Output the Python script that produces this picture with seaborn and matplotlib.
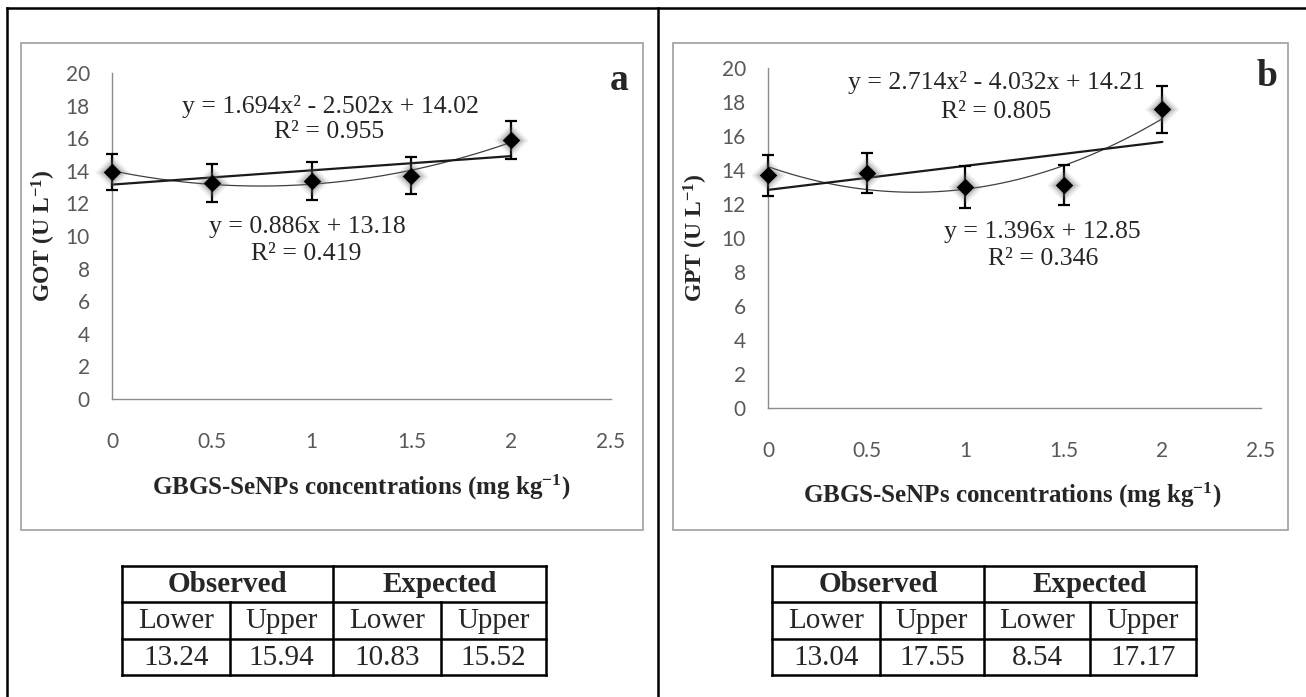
import numpy as np
import pandas as pd
import seaborn as sns
import matplotlib.pyplot as plt
from matplotlib.lines import Line2D
from matplotlib.patches import Rectangle

# values
conc = [0, 0.5, 1, 1.5, 2]
got_mean = [13.93, 13.25, 13.37, 13.70, 15.89]
got_err = [1.10, 1.16, 1.17, 1.14, 1.19]
gpt_mean = [13.70, 13.80, 13.02, 13.12, 17.57]
gpt_err = [1.20, 1.18, 1.23, 1.15, 1.39]

xticks = [0, 0.5, 1, 1.5, 2, 2.5]
xtick_labels = ['0', '0.5', '1', '1.5', '2', '2.5']
yticks = list(range(0, 21, 2))

got_eqs = ['y = 1.694x² - 2.502x + 14.02', 'R² = 0.955', 'y = 0.886x + 13.18', 'R² = 0.419']
gpt_eqs = ['y = 2.714x² - 4.032x + 14.21', 'R² = 0.805', 'y = 1.396x + 12.85', 'R² = 0.346']

table_head = ['Observed', 'Expected']
table_sub = ['Lower', 'Upper', 'Lower', 'Upper']
got_table = ['13.24', '15.94', '10.83', '15.52']
gpt_table = ['13.04', '17.55', '8.54', '17.17']

sns.set_style('white')
plt.rcParams['font.family'] = ['Liberation Serif', 'DejaVu Serif']
plt.rcParams['mathtext.fontset'] = 'custom'
plt.rcParams['mathtext.rm'] = 'Liberation Serif:bold'
plt.rcParams['mathtext.it'] = 'Liberation Serif:bold'
plt.rcParams['mathtext.bf'] = 'Liberation Serif:bold'

W, H = 1306, 697
fig = plt.figure(figsize=(W / 100, H / 100), dpi=100)


def P(x, y):
    return x / W, 1 - y / H


def hline(x0, x1, y, lw=1.8, color='black'):
    fig.add_artist(Line2D([x0 / W, x1 / W], [1 - y / H, 1 - y / H], transform=fig.transFigure,
                          color=color, lw=lw, solid_capstyle='projecting'))


def vline(x, y0, y1, lw=1.8, color='black'):
    fig.add_artist(Line2D([x / W, x / W], [1 - y0 / H, 1 - y1 / H], transform=fig.transFigure,
                          color=color, lw=lw, solid_capstyle='projecting'))


# outer frame of the page table
hline(7, 1306, 8)
vline(7, 8, 697)
vline(658, 8, 697)


def draw_panel(ax_px, box_px, mean, err, ylab, letter, eqs, eq_pos, ylab_pos, xlab_pos, letter_pos):
    x0, x1, ytop, ybot = ax_px
    ax = fig.add_axes([x0 / W, 1 - ybot / H, (x1 - x0) / W, (ybot - ytop) / H])
    bx0, by0, bx1, by1 = box_px
    fig.add_artist(Rectangle((bx0 / W, 1 - by1 / H), (bx1 - bx0) / W, (by1 - by0) / H,
                             transform=fig.transFigure, fill=False, edgecolor='#a6a6a6', lw=1.3))
    df = pd.DataFrame({'conc': conc, 'val': mean})

    sns.regplot(data=df, x='conc', y='val', order=2, ci=None, scatter=False, truncate=True,
                ax=ax, line_kws=dict(color='#404040', lw=0.9))
    sns.regplot(data=df, x='conc', y='val', order=1, ci=None, scatter=False, truncate=True,
                ax=ax, line_kws=dict(color='#1a1a1a', lw=1.6))
    eb = ax.errorbar(conc, mean, yerr=err, fmt='none', ecolor='black', elinewidth=1.6,
                     capsize=4, capthick=1.6, zorder=3)
    for art in eb.lines[1] + eb.lines[2]:
        art.set_clip_on(False)
    # soft shadow round the markers
    for s, a in [(300, 0.12), (200, 0.18), (130, 0.25)]:
        sns.scatterplot(data=df, x='conc', y='val', marker='D', s=s, color='#707070', alpha=a,
                        linewidth=0, ax=ax, zorder=4, clip_on=False)
    sns.scatterplot(data=df, x='conc', y='val', marker='D', s=80, color='black',
                    linewidth=0, ax=ax, zorder=5, clip_on=False)

    ax.set_xlim(0, 2.5)
    ax.set_ylim(0, 20)
    ax.set_xticks(xticks)
    ax.set_xticklabels(xtick_labels)
    ax.set_yticks(yticks)
    ax.set_xlabel('')
    ax.set_ylabel('')
    sns.despine(ax=ax)
    for side in ['left', 'bottom']:
        ax.spines[side].set_color('#8c8c8c')
        ax.spines[side].set_linewidth(1.0)
    ax.tick_params(axis='both', direction='out', length=6, width=1.0, color='#8c8c8c',
                   labelcolor='#595959', labelsize=15)
    ax.tick_params(axis='x', pad=18)
    ax.tick_params(axis='y', pad=10)
    for lbl in ax.get_xticklabels() + ax.get_yticklabels():
        lbl.set_fontfamily('Lato')

    for txt, (px, py) in zip(eqs, eq_pos):
        fig.text(*P(px, py), txt, ha='center', va='center', fontsize=18.5)
    fig.text(*P(*ylab_pos), ylab, rotation=90, ha='center', va='center',
             fontsize=17, fontweight='bold')
    fig.text(*P(*xlab_pos), 'GBGS-SeNPs concentrations (mg kg$^{-1}$)', ha='center', va='center',
             fontsize=18, fontweight='bold')
    fig.text(*P(*letter_pos), letter, ha='center', va='center', fontsize=27, fontweight='bold')
    return ax


def draw_table(xs, ys, values):
    # xs: 5 column edges, ys: 4 row edges
    for y in ys:
        hline(xs[0], xs[-1], y)
    vline(xs[0], ys[0], ys[-1])
    vline(xs[2], ys[0], ys[-1])
    vline(xs[4], ys[0], ys[-1])
    vline(xs[1], ys[1], ys[-1])
    vline(xs[3], ys[1], ys[-1])
    fs = 21
    for i, head in enumerate(table_head):
        cx = (xs[2 * i] + xs[2 * i + 2]) / 2
        fig.text(*P(cx, (ys[0] + ys[1]) / 2 + 1), head, ha='center', va='center',
                 fontsize=fs, fontweight='bold')
    for j in range(4):
        cx = (xs[j] + xs[j + 1]) / 2
        fig.text(*P(cx, (ys[1] + ys[2]) / 2 + 1), table_sub[j], ha='center', va='center', fontsize=fs)
        fig.text(*P(cx, (ys[2] + ys[3]) / 2 + 1), values[j], ha='center', va='center', fontsize=fs)


draw_panel((112, 611, 73, 399), (21, 43, 643, 530), got_mean, got_err, 'GOT (U L$^{-1}$)', 'a',
           got_eqs, [(330, 106), (329, 132), (307, 227), (306, 254)],
           (44, 236), (361, 487), (619, 80))
draw_panel((768, 1261, 68, 408), (673, 43, 1288, 530), gpt_mean, gpt_err, 'GPT (U L$^{-1}$)', 'b',
           gpt_eqs, [(997, 82), (996, 112), (1042, 232), (1043, 259)],
           (696, 238), (1012, 495), (1267, 76))

draw_table([122, 230, 333, 441, 546], [566, 602, 639, 675], got_table)
draw_table([772, 880, 984, 1090, 1196], [566, 602, 639, 675], gpt_table)

fig.savefig('out.png', dpi=100)
